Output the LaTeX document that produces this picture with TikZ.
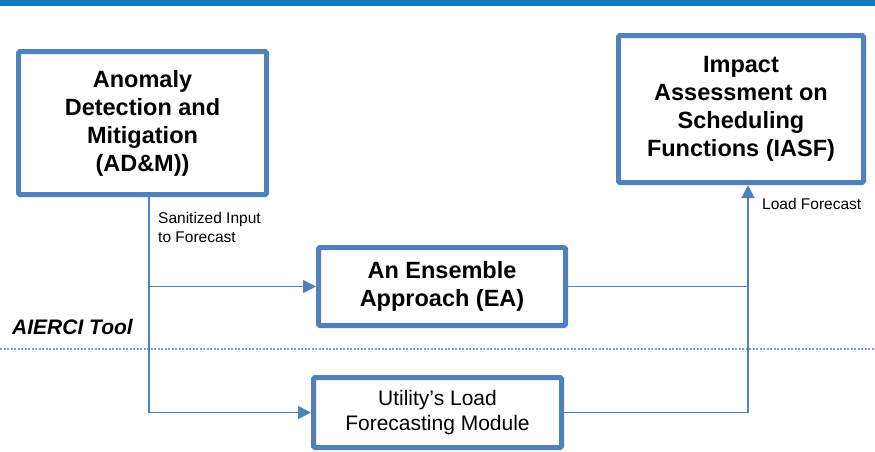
\documentclass[tikz,border=0pt]{standalone}
\usepackage{fontspec}
\setmainfont{Liberation Sans}
\usetikzlibrary{arrows.meta}
\definecolor{boxblue}{HTML}{4F81BD}
\definecolor{barblue}{HTML}{1677BE}
\definecolor{dotblue}{HTML}{7F9FD0}
\begin{document}
\begin{tikzpicture}[x=1pt,y=-1pt,
  block/.style={draw=boxblue, line width=5pt, rounded corners=1.5pt, fill=white, align=center, inner sep=0pt},
  titlebox/.style={block, font=\fontsize{23.5}{28}\selectfont\bfseries},
  plainbox/.style={block, font=\fontsize{21}{24.2}\selectfont},
  conn/.style={draw=boxblue, line width=1.5pt},
  flow/.style={conn, -{Triangle[length=13pt,width=13pt]}},
  note/.style={font=\fontsize{15.5}{18.5}\selectfont, align=left, inner sep=0pt, anchor=west}
]
\useasboundingbox (0,0) rectangle (875,451);

% header bar
\fill[barblue] (0,0) rectangle (875,6);

% boundary of the tool
\coordinate (divL) at (0,349);
\coordinate (divR) at (875,349);
\draw[dotblue, line width=1.1pt, dash pattern=on 2pt off 1.5pt] (divL) -- (divR);

% blocks
\node[titlebox, minimum width=248pt, minimum height=143pt] (adm) at (142.5,123)
  {Anomaly\\Detection and\\Mitigation\\(AD\&M))};
\node[titlebox, minimum width=245pt, minimum height=147pt] (iasf) at (741,109)
  {\raisebox{2.5pt}{\parbox{245pt}{\centering Impact\\Assessment on\\Scheduling\\Functions (IASF)}}};
\node[titlebox, minimum width=247pt, minimum height=78pt] (ea) at (442,286.5)
  {An Ensemble\\Approach (EA)};
\node[plainbox, minimum width=248pt, minimum height=70pt] (ulf) at (437.5,412.5)
  {Utility’s Load\\Forecasting Module};

% routing columns
\coordinate (trunk) at (149,0);
\coordinate (merge) at (748,0);

% connectors
\draw[flow] (adm.south -| trunk) |- (ea.west);
\draw[flow] (adm.south -| trunk) |- (ulf.west);
\draw[conn] (ea.east) -- (ea.east -| merge);
\draw[flow] (ulf.east) -| (iasf.south -| merge);

% labels
\node[note] (sani) at (158,227.5) {Sanitized Input\\to Forecast};
\node[note] (lf) at (762,204) {Load Forecast};
\node[font=\fontsize{21}{24}\selectfont\bfseries\itshape, inner sep=0pt, anchor=west] (tool) at (12,327) {AIERCI Tool};
\end{tikzpicture}
\end{document}
